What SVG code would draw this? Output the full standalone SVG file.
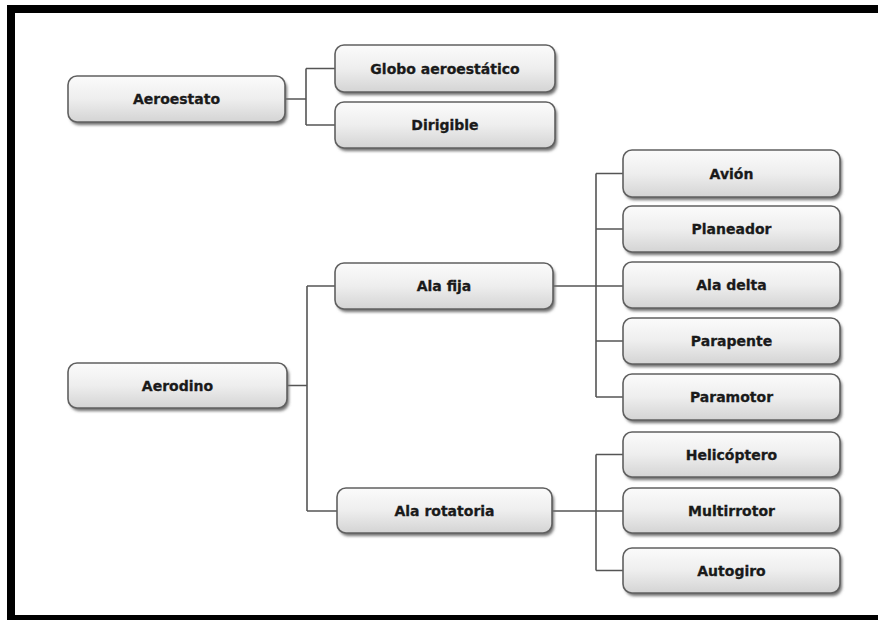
<svg xmlns="http://www.w3.org/2000/svg" width="878" height="620" viewBox="0 0 878 620">
  <defs>
    <linearGradient id="g" x1="0" y1="0" x2="0" y2="1">
      <stop offset="0" stop-color="#fbfbfb"/>
      <stop offset="0.5" stop-color="#eeeeee"/>
      <stop offset="1" stop-color="#d4d4d4"/>
    </linearGradient>
    <filter id="sh" x="-10%" y="-20%" width="130%" height="160%">
      <feGaussianBlur stdDeviation="1.5"/>
    </filter>
  </defs>
  <style>
    .box { fill: url(#g); stroke: #606060; stroke-width: 1.6; }
    .shadow { fill: #6f6f6f; filter: url(#sh); }
    .lbl { font-family: "DejaVu Sans", Verdana, sans-serif; font-weight: bold; font-size: 14px; fill: #1a1a1a; stroke: #1a1a1a; stroke-width: 0.3; text-anchor: middle; dominant-baseline: central; }
    .con { fill: none; stroke: #555; stroke-width: 1.6; }
  </style>
  <rect x="0" y="0" width="878" height="620" fill="#ffffff"/>
  <!-- frame -->
  <rect x="7" y="5" width="871" height="8" fill="#000"/>
  <rect x="7" y="5" width="8" height="615" fill="#000"/>
  <rect x="7" y="615" width="871" height="5" fill="#000"/>

  <g id="connectors">
    <path class="con" d="M285 99 H306 M306 68.5 V125 M306 68.5 H335 M306 125 H335"/>
    <path class="con" d="M287 385.5 H307 M307 286 V511 M307 286 H335 M307 511 H337"/>
    <path class="con" d="M553 286 H623 M596 173.5 V397 M596 173.5 H623 M596 229 H623 M596 341 H623 M596 397 H623"/>
    <path class="con" d="M552 511 H623 M596 454.5 V570.5 M596 454.5 H623 M596 570.5 H623"/>
  </g>

  <g id="aeroestato">
    <rect class="shadow" x="70" y="79" width="217" height="46" rx="9"/>
    <rect class="box" x="68" y="76" width="217" height="46" rx="9"/>
    <text class="lbl" x="176.5" y="99">Aeroestato</text>
  </g>
  <g id="globo">
    <rect class="shadow" x="337" y="48" width="220" height="47" rx="9"/>
    <rect class="box" x="335" y="45" width="220" height="47" rx="9"/>
    <text class="lbl" x="445" y="68.5">Globo aeroestático</text>
  </g>
  <g id="dirigible">
    <rect class="shadow" x="337" y="105" width="220" height="46" rx="9"/>
    <rect class="box" x="335" y="102" width="220" height="46" rx="9"/>
    <text class="lbl" x="445" y="125">Dirigible</text>
  </g>
  <g id="aerodino">
    <rect class="shadow" x="70" y="366" width="219" height="45" rx="9"/>
    <rect class="box" x="68" y="363" width="219" height="45" rx="9"/>
    <text class="lbl" x="177.5" y="385.5">Aerodino</text>
  </g>
  <g id="alafija">
    <rect class="shadow" x="337" y="266" width="218" height="46" rx="9"/>
    <rect class="box" x="335" y="263" width="218" height="46" rx="9"/>
    <text class="lbl" x="444" y="286">Ala fija</text>
  </g>
  <g id="alarotatoria">
    <rect class="shadow" x="339" y="491" width="215" height="45" rx="9"/>
    <rect class="box" x="337" y="488" width="215" height="45" rx="9"/>
    <text class="lbl" x="444.5" y="510.5">Ala rotatoria</text>
  </g>
  <g id="avion">
    <rect class="shadow" x="625" y="153" width="217" height="47" rx="9"/>
    <rect class="box" x="623" y="150" width="217" height="47" rx="9"/>
    <text class="lbl" x="731.5" y="173.5">Avión</text>
  </g>
  <g id="planeador">
    <rect class="shadow" x="625" y="209" width="217" height="46" rx="9"/>
    <rect class="box" x="623" y="206" width="217" height="46" rx="9"/>
    <text class="lbl" x="731.5" y="229">Planeador</text>
  </g>
  <g id="aladelta">
    <rect class="shadow" x="625" y="265" width="217" height="46" rx="9"/>
    <rect class="box" x="623" y="262" width="217" height="46" rx="9"/>
    <text class="lbl" x="731.5" y="285">Ala delta</text>
  </g>
  <g id="parapente">
    <rect class="shadow" x="625" y="321" width="217" height="46" rx="9"/>
    <rect class="box" x="623" y="318" width="217" height="46" rx="9"/>
    <text class="lbl" x="731.5" y="341">Parapente</text>
  </g>
  <g id="paramotor">
    <rect class="shadow" x="625" y="377" width="217" height="46" rx="9"/>
    <rect class="box" x="623" y="374" width="217" height="46" rx="9"/>
    <text class="lbl" x="731.5" y="397">Paramotor</text>
  </g>
  <g id="helicoptero">
    <rect class="shadow" x="625" y="435" width="217" height="45" rx="9"/>
    <rect class="box" x="623" y="432" width="217" height="45" rx="9"/>
    <text class="lbl" x="731.5" y="454.5">Helicóptero</text>
  </g>
  <g id="multirrotor">
    <rect class="shadow" x="625" y="491" width="217" height="45" rx="9"/>
    <rect class="box" x="623" y="488" width="217" height="45" rx="9"/>
    <text class="lbl" x="731.5" y="510.5">Multirrotor</text>
  </g>
  <g id="autogiro">
    <rect class="shadow" x="625" y="551" width="217" height="45" rx="9"/>
    <rect class="box" x="623" y="548" width="217" height="45" rx="9"/>
    <text class="lbl" x="731.5" y="570.5">Autogiro</text>
  </g>
</svg>
